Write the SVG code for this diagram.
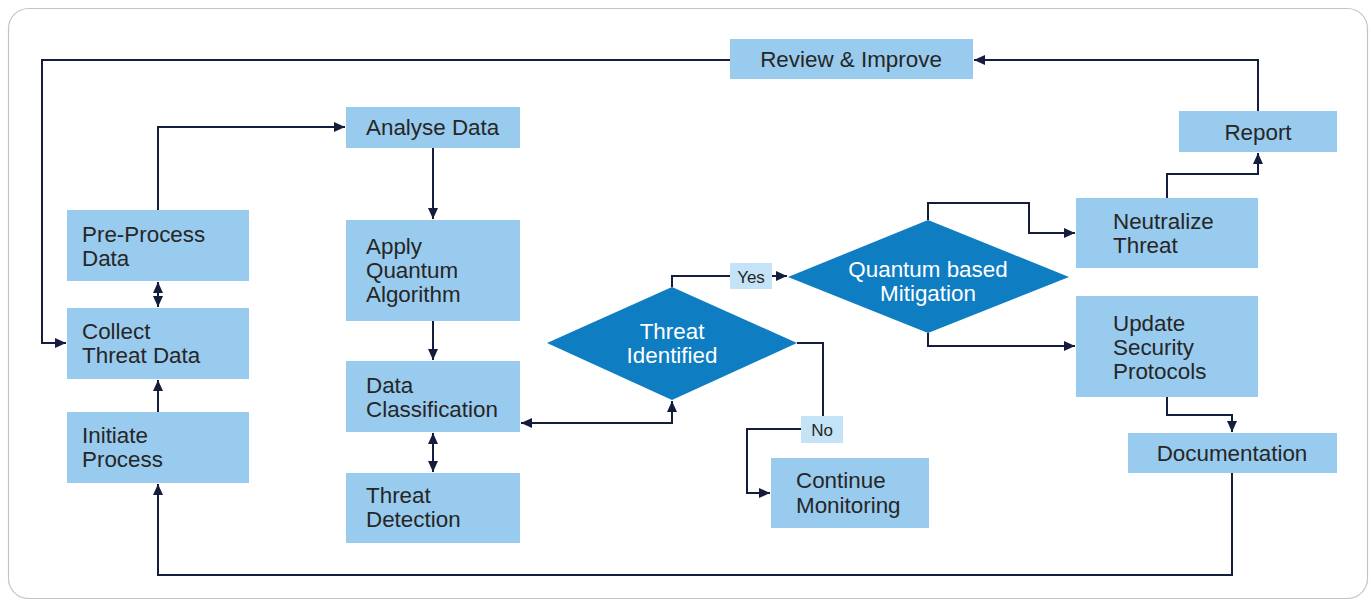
<svg xmlns="http://www.w3.org/2000/svg" width="1371" height="603" viewBox="0 0 1371 603">
  <style>
    .box { fill: #99cbee; }
    .dia { fill: #0f7dc2; }
    .tag { fill: #c4e3f7; }
    .t { font-family: "Liberation Sans", Arial, sans-serif; font-size: 22.4px; fill: #262626; }
    .tw { font-family: "Liberation Sans", Arial, sans-serif; font-size: 22.4px; fill: #ffffff; text-anchor: middle; }
    .tl { font-family: "Liberation Sans", Arial, sans-serif; font-size: 17px; fill: #262626; text-anchor: middle; }
    .c { text-anchor: middle; }
    .ln { fill: none; stroke: #141d3b; stroke-width: 2; }
  </style>
  <defs>
    <marker id="ah" markerUnits="userSpaceOnUse" markerWidth="11" markerHeight="10" viewBox="0 0 11 10" refX="11" refY="5" orient="auto-start-reverse">
      <path d="M0,0 L11,5 L0,10 Z" fill="#141d3b"/>
    </marker>
  </defs>

  <rect x="8.5" y="8.5" width="1359" height="590" rx="20" ry="20" fill="#ffffff" stroke="#c4c4c4" stroke-width="1.2"/>

  <g id="connectors">
    <!-- feedback loop: review back to collection -->
    <path class="ln" d="M730,60 H42 V343 H66" marker-end="url(#ah)"/>
    <!-- pre-process to analyse -->
    <path class="ln" d="M158,210 V127 H345" marker-end="url(#ah)"/>
    <!-- pre-process <-> collect -->
    <path class="ln" d="M158,282 V307" marker-start="url(#ah)" marker-end="url(#ah)"/>
    <!-- initiate to collect -->
    <path class="ln" d="M158,412 V380" marker-end="url(#ah)"/>
    <!-- documentation back to initiate -->
    <path class="ln" d="M1232,473 V575 H158 V484" marker-end="url(#ah)"/>
    <!-- analyse to apply -->
    <path class="ln" d="M433,148 V219" marker-end="url(#ah)"/>
    <!-- apply to classification -->
    <path class="ln" d="M433,321 V360" marker-end="url(#ah)"/>
    <!-- classification <-> detection -->
    <path class="ln" d="M433,433 V472" marker-start="url(#ah)" marker-end="url(#ah)"/>
    <!-- decision <-> classification -->
    <path class="ln" d="M672,401 V423 H521" marker-start="url(#ah)" marker-end="url(#ah)"/>
    <!-- yes branch -->
    <path class="ln" d="M672,287 V276 H787" marker-end="url(#ah)"/>
    <!-- no branch -->
    <path class="ln" d="M797,343 H823 V429 H747 V493 H770" marker-end="url(#ah)"/>
    <!-- mitigation to neutralize -->
    <path class="ln" d="M928,220 V203 H1029 V233 H1075" marker-end="url(#ah)"/>
    <!-- mitigation to update -->
    <path class="ln" d="M928,333 V346 H1075" marker-end="url(#ah)"/>
    <!-- neutralize to report -->
    <path class="ln" d="M1167,198 V174 H1258 V153" marker-end="url(#ah)"/>
    <!-- report to review -->
    <path class="ln" d="M1258,111 V60 H974" marker-end="url(#ah)"/>
    <!-- update to documentation -->
    <path class="ln" d="M1167,397 V415 H1232 V432" marker-end="url(#ah)"/>
  </g>

  <g id="review">
    <rect class="box" x="730" y="39" width="243" height="40"/>
    <text class="t c" x="851" y="67">Review &amp; Improve</text>
  </g>
  <g id="report">
    <rect class="box" x="1179" y="111" width="158" height="41"/>
    <text class="t c" x="1258" y="140">Report</text>
  </g>
  <g id="neutralize">
    <rect class="box" x="1076" y="198" width="182" height="70"/>
    <text class="t" x="1113" y="229">Neutralize</text>
    <text class="t" x="1113" y="253">Threat</text>
  </g>
  <g id="update">
    <rect class="box" x="1076" y="296" width="182" height="101"/>
    <text class="t" x="1113" y="331">Update</text>
    <text class="t" x="1113" y="355">Security</text>
    <text class="t" x="1113" y="379">Protocols</text>
  </g>
  <g id="documentation">
    <rect class="box" x="1128" y="433" width="209" height="40"/>
    <text class="t c" x="1232" y="461">Documentation</text>
  </g>
  <g id="preprocess">
    <rect class="box" x="67" y="210" width="182" height="71"/>
    <text class="t" x="82" y="242">Pre-Process</text>
    <text class="t" x="82" y="266">Data</text>
  </g>
  <g id="collect">
    <rect class="box" x="67" y="308" width="182" height="71"/>
    <text class="t" x="82" y="339">Collect</text>
    <text class="t" x="82" y="363">Threat Data</text>
  </g>
  <g id="initiate">
    <rect class="box" x="67" y="412" width="182" height="71"/>
    <text class="t" x="82" y="443">Initiate</text>
    <text class="t" x="82" y="467">Process</text>
  </g>
  <g id="analyse">
    <rect class="box" x="346" y="107" width="174" height="41"/>
    <text class="t" x="366" y="135">Analyse Data</text>
  </g>
  <g id="apply">
    <rect class="box" x="346" y="220" width="174" height="101"/>
    <text class="t" x="366" y="254">Apply</text>
    <text class="t" x="366" y="278">Quantum</text>
    <text class="t" x="366" y="302">Algorithm</text>
  </g>
  <g id="classification">
    <rect class="box" x="346" y="361" width="174" height="71"/>
    <text class="t" x="366" y="393">Data</text>
    <text class="t" x="366" y="417">Classification</text>
  </g>
  <g id="detection">
    <rect class="box" x="346" y="473" width="174" height="70"/>
    <text class="t" x="366" y="503">Threat</text>
    <text class="t" x="366" y="527">Detection</text>
  </g>
  <g id="monitoring">
    <rect class="box" x="771" y="458" width="158" height="70"/>
    <text class="t" x="796" y="488">Continue</text>
    <text class="t" x="796" y="513">Monitoring</text>
  </g>
  <g id="identified">
    <polygon class="dia" points="672,287 797,343 672,400 547,343"/>
    <text class="tw" x="672" y="339">Threat</text>
    <text class="tw" x="672" y="363">Identified</text>
  </g>
  <g id="mitigation">
    <polygon class="dia" points="928,220 1069,277 928,333 788,277"/>
    <text class="tw" x="928" y="277">Quantum based</text>
    <text class="tw" x="928" y="301">Mitigation</text>
  </g>
  <g id="yes-label">
    <rect class="tag" x="730" y="263" width="42" height="26"/>
    <text class="tl" x="751" y="283">Yes</text>
  </g>
  <g id="no-label">
    <rect class="tag" x="801" y="416" width="42" height="27"/>
    <text class="tl" x="822" y="436">No</text>
  </g>
</svg>
